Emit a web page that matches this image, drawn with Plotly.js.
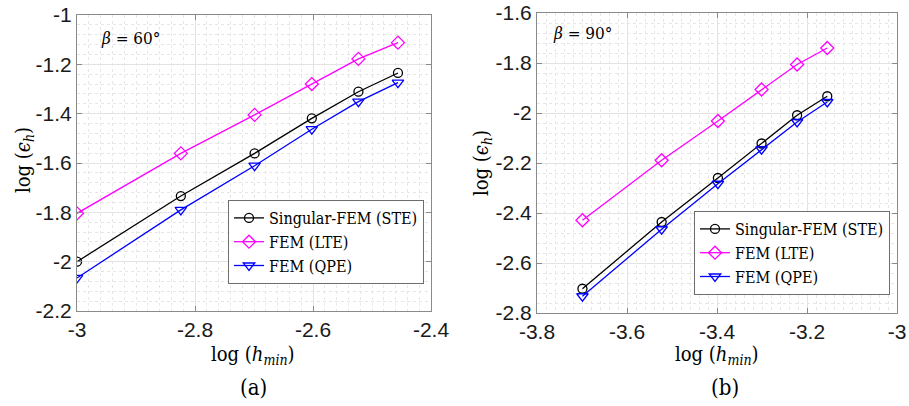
<!DOCTYPE html>
<html>
<head>
<meta charset="utf-8">
<script src="https://cdn.plot.ly/plotly-3.0.1.min.js"></script>
<style>html,body{margin:0;padding:0;background:#fff;}#chart{width:909px;height:406px;}</style>
</head>
<body>
<div id="chart"></div>
<script>
// Panel (a): beta = 60 deg
const xA = [-3.000, -2.824, -2.699, -2.602, -2.523, -2.456];
const steA = [-2.000, -1.734, -1.561, -1.419, -1.311, -1.235];
const lteA = [-1.804, -1.561, -1.405, -1.280, -1.178, -1.112];
const qpeA = [-2.066, -1.790, -1.611, -1.463, -1.351, -1.274];
// Panel (b): beta = 90 deg
const xB = [-3.699, -3.523, -3.398, -3.301, -3.222, -3.155];
const steB = [-2.703, -2.436, -2.260, -2.122, -2.009, -1.933];
const lteB = [-2.429, -2.189, -2.032, -1.906, -1.806, -1.740];
const qpeB = [-2.733, -2.465, -2.283, -2.145, -2.036, -1.956];

const seriesNames = ['Singular-FEM (STE)', 'FEM (LTE)', 'FEM (QPE)'];

// Tick labels
const xTickValsA = [-3, -2.8, -2.6, -2.4];
const xTickTextA = ['-3', '-2.8', '-2.6', '-2.4'];
const yTickValsA = [-2.2, -2, -1.8, -1.6, -1.4, -1.2, -1];
const yTickTextA = ['-2.2', '-2', '-1.8', '-1.6', '-1.4', '-1.2', '-1'];
const xTickValsB = [-3.8, -3.6, -3.4, -3.2, -3];
const xTickTextB = ['-3.8', '-3.6', '-3.4', '-3.2', '-3'];
const yTickValsB = [-2.8, -2.6, -2.4, -2.2, -2, -1.8, -1.6];
const yTickTextB = ['-2.8', '-2.6', '-2.4', '-2.2', '-2', '-1.8', '-1.6'];

const styles = [
  {color: '#000000', symbol: 'circle-open', size: 9},
  {color: '#ff00ff', symbol: 'diamond-open', size: 10},
  {color: '#0000ff', symbol: 'triangle-down-open', size: 10}
];

function mk(x, y, i, xa, ya, lg) {
  return {
    x: x, y: y, name: seriesNames[i], type: 'scatter', mode: 'lines+markers',
    xaxis: xa, yaxis: ya, legend: lg,
    line: {color: styles[i].color, width: 1.3},
    marker: {symbol: styles[i].symbol, size: styles[i].size, color: styles[i].color,
             line: {color: styles[i].color, width: 1.3}}
  };
}

const data = [
  mk(xA, steA, 0, 'x', 'y', 'legend'),
  mk(xA, lteA, 1, 'x', 'y', 'legend'),
  mk(xA, qpeA, 2, 'x', 'y', 'legend'),
  mk(xB, steB, 0, 'x2', 'y2', 'legend2'),
  mk(xB, lteB, 1, 'x2', 'y2', 'legend2'),
  mk(xB, qpeB, 2, 'x2', 'y2', 'legend2')
];

const W = 909, H = 406;
const tickFont = {family: 'Liberation Sans', size: 21, color: '#1a1a1a'};
function axis(dom, range, tv, tt, anchor, minorDtick) {
  return {
    domain: dom, range: range, anchor: anchor,
    tickvals: tv, ticktext: tt, tickfont: tickFont,
    ticks: 'inside', ticklen: 5, tickcolor: '#8a8a8a', tickwidth: 1,
    showline: true, linecolor: '#8a8a8a', linewidth: 1, mirror: 'ticks',
    showgrid: true, gridcolor: '#e3e3e3', gridwidth: 1, zeroline: false,
    minor: {dtick: minorDtick, showgrid: true, gridcolor: '#e6e6e6', griddash: 'dot', gridwidth: 1, ticks: ''}
  };
}

const serif = 'DejaVu Serif Condensed';
const layout = {
  width: W, height: H,
  margin: {l: 0, r: 0, t: 0, b: 0},
  paper_bgcolor: '#ffffff', plot_bgcolor: '#ffffff',
  font: {family: serif, color: '#000'},
  showlegend: true,
  xaxis: axis([77 / W, 431 / W], [-3, -2.4], xTickValsA, xTickTextA, 'y', 0.02),
  yaxis: axis([(H - 311) / H, (H - 15) / H], [-2.2, -1], yTickValsA, yTickTextA, 'x', 0.04),
  xaxis2: axis([537 / W, 897 / W], [-3.8, -3], xTickValsB, xTickTextB, 'y2', 0.02),
  yaxis2: axis([(H - 313) / H, (H - 13) / H], [-2.8, -1.6], yTickValsB, yTickTextB, 'x2', 0.04),
  legend: {
    x: 228 / W, y: (H - 200) / H, xanchor: 'left', yanchor: 'top', xref: 'paper', yref: 'paper',
    bgcolor: '#ffffff', bordercolor: '#6e6e6e', borderwidth: 1,
    font: {family: serif, size: 16, color: '#000'}, itemwidth: 30, tracegroupgap: 0
  },
  legend2: {
    x: 694 / W, y: (H - 211) / H, xanchor: 'left', yanchor: 'top', xref: 'paper', yref: 'paper',
    bgcolor: '#ffffff', bordercolor: '#6e6e6e', borderwidth: 1,
    font: {family: serif, size: 16, color: '#000'}, itemwidth: 30, tracegroupgap: 0
  },
  annotations: [
    {text: '<i>β</i> = 60°', x: 99 / W, y: (H - 38) / H, xref: 'paper', yref: 'paper',
     xanchor: 'left', yanchor: 'middle', showarrow: false, font: {family: serif, size: 17, color: '#000'}},
    {text: '<i>β</i> = 90°', x: 551 / W, y: (H - 33) / H, xref: 'paper', yref: 'paper',
     xanchor: 'left', yanchor: 'middle', showarrow: false, font: {family: serif, size: 17, color: '#000'}},
    {text: 'log (<i>h</i><sub><i>min</i></sub>)', x: 253 / W, y: (H - 355) / H, xref: 'paper', yref: 'paper',
     xanchor: 'center', yanchor: 'middle', showarrow: false, font: {family: serif, size: 20, color: '#000'}},
    {text: 'log (<i>h</i><sub><i>min</i></sub>)', x: 717 / W, y: (H - 355) / H, xref: 'paper', yref: 'paper',
     xanchor: 'center', yanchor: 'middle', showarrow: false, font: {family: serif, size: 20, color: '#000'}},
    {text: 'log (<i>ϵ</i><sub><i>h</i></sub>)', x: 24 / W, y: (H - 160) / H, xref: 'paper', yref: 'paper',
     xanchor: 'center', yanchor: 'middle', textangle: -90, showarrow: false, font: {family: serif, size: 20, color: '#000'}},
    {text: 'log (<i>ϵ</i><sub><i>h</i></sub>)', x: 482 / W, y: (H - 163) / H, xref: 'paper', yref: 'paper',
     xanchor: 'center', yanchor: 'middle', textangle: -90, showarrow: false, font: {family: serif, size: 20, color: '#000'}},
    {text: '(a)', x: 253 / W, y: (H - 387) / H, xref: 'paper', yref: 'paper',
     xanchor: 'center', yanchor: 'middle', showarrow: false, font: {family: serif, size: 22, color: '#000'}},
    {text: '(b)', x: 725 / W, y: (H - 387) / H, xref: 'paper', yref: 'paper',
     xanchor: 'center', yanchor: 'middle', showarrow: false, font: {family: serif, size: 22, color: '#000'}}
  ]
};

Plotly.newPlot('chart', data, layout, {displayModeBar: false, staticPlot: true});
</script>
</body>
</html>
